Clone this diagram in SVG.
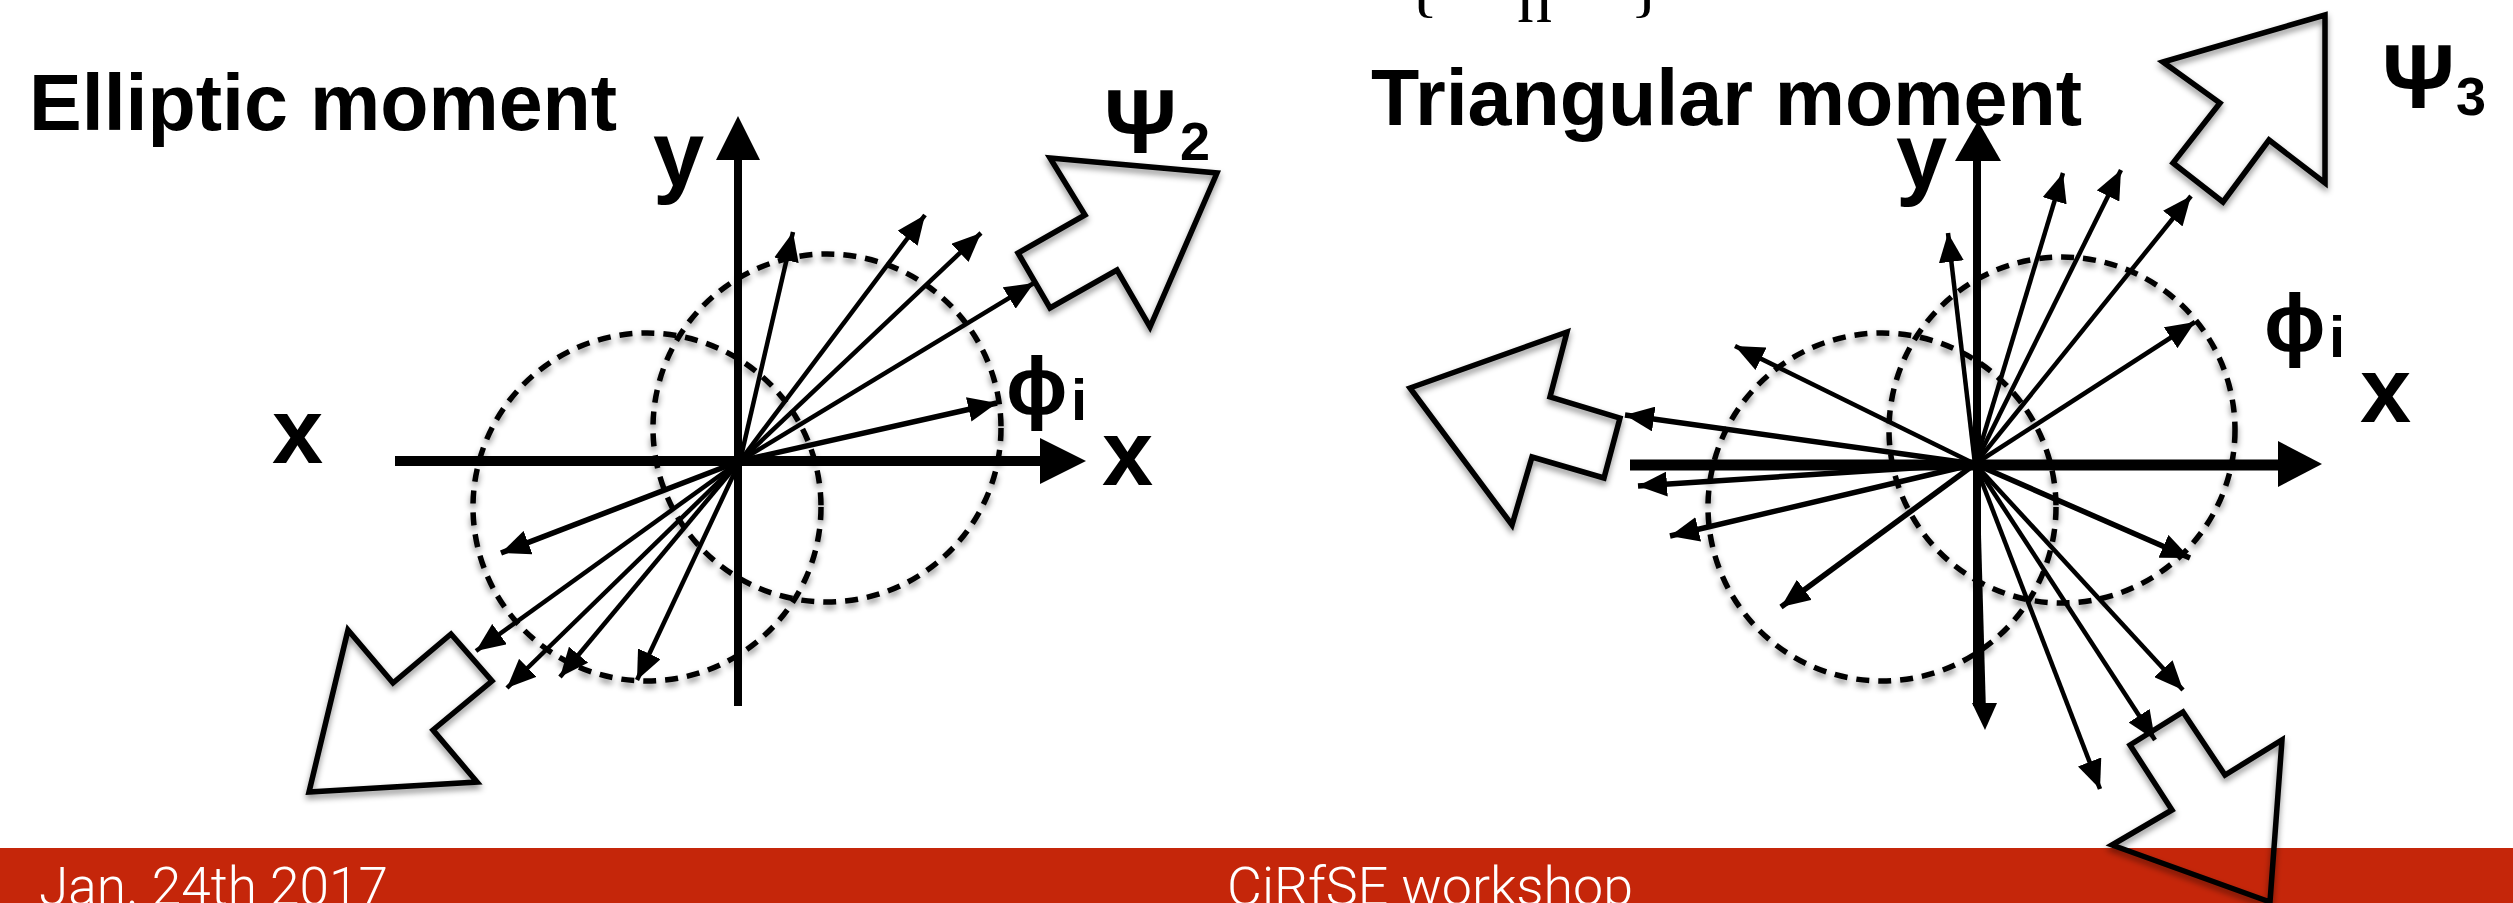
<svg xmlns="http://www.w3.org/2000/svg" width="2513" height="903" viewBox="0 0 2513 903">
<defs>
<style>
.lbl{font-family:"Liberation Sans",Arial,sans-serif;font-weight:bold;fill:#000}
.foot{font-family:Roboto,"Liberation Sans",sans-serif;font-weight:300;fill:#fff;font-size:53px}
.frag{font-family:"Liberation Serif","Times New Roman",serif;fill:#000;font-size:70px}
.dash{fill:none;stroke:#000;stroke-width:5.5;stroke-dasharray:13 9;filter:url(#sh)}
.big{fill:none;stroke:#000;stroke-width:5.5;stroke-linejoin:miter;filter:url(#sh)}
.axis{stroke:#000;fill:none}
.ray{stroke:#000;stroke-width:4.5;fill:none;marker-end:url(#ah)}
.rayb{stroke:#000;stroke-width:5.5;fill:none;marker-end:url(#ah)}
</style>
<filter id="sh" x="-20%" y="-20%" width="140%" height="140%">
<feDropShadow dx="0" dy="4" stdDeviation="3" flood-color="#000" flood-opacity="0.45"/>
</filter>
<marker id="ah" markerUnits="userSpaceOnUse" markerWidth="29" markerHeight="25" viewBox="0 0 29 25" refX="29" refY="12.5" orient="auto">
<path d="M0,0 L29,12.5 L0,25 z" fill="#000"/>
</marker>
</defs>
<rect id="footer" x="0" y="848" width="2513" height="55" fill="#C5260A"/>
<text class="foot" x="39" y="905" textLength="349" lengthAdjust="spacingAndGlyphs">Jan. 24th 2017</text>
<text class="foot" x="1227" y="905" textLength="406" lengthAdjust="spacingAndGlyphs">CiRfSE workshop</text>

<g id="formula-fragment">
<text class="frag" x="1405" y="9">{</text>
<text class="frag" x="1517" y="22">n</text>
<text class="frag" x="1630" y="9">}</text>
</g>

<g id="elliptic">
<text class="lbl" x="29" y="130" font-size="79">Elliptic moment</text>
<circle class="dash" cx="827" cy="428" r="174"/>
<circle class="dash" cx="647" cy="507" r="174"/>
<g id="axes-left">
<line class="axis" x1="738" y1="706" x2="738" y2="158" stroke-width="8"/>
<polygon points="738,116 716,160 760,160" fill="#000"/>
<line class="axis" x1="395" y1="461" x2="1042" y2="461" stroke-width="10"/>
<polygon points="1086,461 1040,438 1040,484" fill="#000"/>
</g>
<text class="lbl" x="653" y="186" font-size="92">y</text>
<text class="lbl" x="272" y="463" font-size="92">x</text>
<text class="lbl" x="1102" y="485" font-size="92">x</text>
<g id="psi2"><text class="lbl" x="1104" y="153" font-size="90">Ψ</text><text class="lbl" x="1180" y="160" font-size="54">2</text></g>
<g id="phi-left"><text class="lbl" x="1006" y="414" font-size="82">ϕ</text><text class="lbl" x="1071" y="420" font-size="58">i</text></g>
<polygon id="bigarrow-psi2" class="big" points="1050,158 1217,173 1150,327 1117,270 1050,308 1018,253 1085,215"/>
<polygon id="bigarrow-ll" class="big" points="348,630 393,683 451,634 492,681 433,730 477,782 309,792"/>
<g id="rays-left">
<line class="ray" x1="740" y1="461" x2="793" y2="232"/>
<line class="ray" x1="740" y1="461" x2="925" y2="215"/>
<line class="ray" x1="740" y1="461" x2="981" y2="233"/>
<line class="ray" x1="740" y1="461" x2="1034" y2="283"/>
<line class="rayb" x1="740" y1="461" x2="997" y2="403"/>
<line class="rayb" x1="740" y1="461" x2="501" y2="553"/>
<line class="ray" x1="740" y1="461" x2="476" y2="651"/>
<line class="ray" x1="740" y1="461" x2="507" y2="688"/>
<line class="ray" x1="740" y1="461" x2="560" y2="677"/>
<line class="ray" x1="740" y1="461" x2="637" y2="680"/>
</g>
</g>

<g id="triangular">
<text class="lbl" x="1371" y="125" font-size="79">Triangular moment</text>
<circle class="dash" cx="2062" cy="430" r="173"/>
<circle class="dash" cx="1882" cy="507" r="174"/>
<g id="axes-right">
<line class="axis" x1="1977" y1="706" x2="1977" y2="158" stroke-width="8"/>
<polygon points="1978,121 1955,161 2001,161" fill="#000"/>
<line class="axis" x1="1630" y1="465" x2="2282" y2="465" stroke-width="11"/>
<polygon points="2322,464 2278,441 2278,487" fill="#000"/>
</g>
<text class="lbl" x="1896" y="188" font-size="92">y</text>
<text class="lbl" x="2360" y="422" font-size="92">x</text>
<g id="psi3"><text class="lbl" x="2382" y="108" font-size="90">Ψ</text><text class="lbl" x="2456" y="115" font-size="54">3</text></g>
<g id="phi-right"><text class="lbl" x="2264" y="351" font-size="82">ϕ</text><text class="lbl" x="2329" y="357" font-size="58">i</text></g>
<polygon id="bigarrow-psi3" class="big" points="2163,62 2325,15 2325,183 2269,140 2223,202 2173,163 2220,103"/>
<polygon id="bigarrow-left" class="big" points="1410,388 1567,332 1550,397 1620,418 1604,478 1532,457 1512,525"/>
<polygon id="bigarrow-lr" class="big" points="2183,712 2225,775 2282,740 2270,902 2112,845 2172,810 2130,745"/>
<g id="rays-right">
<line class="ray" x1="1975" y1="464" x2="1948" y2="233"/>
<line class="ray" x1="1975" y1="464" x2="2063" y2="173"/>
<line class="ray" x1="1975" y1="464" x2="2121" y2="170"/>
<line class="ray" x1="1975" y1="464" x2="2191" y2="196"/>
<line class="ray" x1="1975" y1="464" x2="2195" y2="322"/>
<line class="ray" x1="1975" y1="464" x2="1735" y2="346"/>
<line class="rayb" x1="1975" y1="464" x2="1625" y2="415"/>
<line class="rayb" x1="1975" y1="464" x2="1638" y2="486"/>
<line class="rayb" x1="1975" y1="464" x2="1670" y2="536"/>
<line class="rayb" x1="1975" y1="464" x2="1781" y2="607"/>
<line class="axis" x1="1976" y1="464" x2="1983" y2="712" stroke-width="6"/>
<polygon points="1985,730 1972,703 1997,703" fill="#000"/>
<line class="ray" x1="1975" y1="464" x2="2100" y2="789"/>
<line class="rayb" x1="1975" y1="464" x2="2190" y2="558"/>
<line class="ray" x1="1975" y1="464" x2="2183" y2="690"/>
<line class="ray" x1="1975" y1="464" x2="2155" y2="740"/>
</g>
</g>
</svg>
